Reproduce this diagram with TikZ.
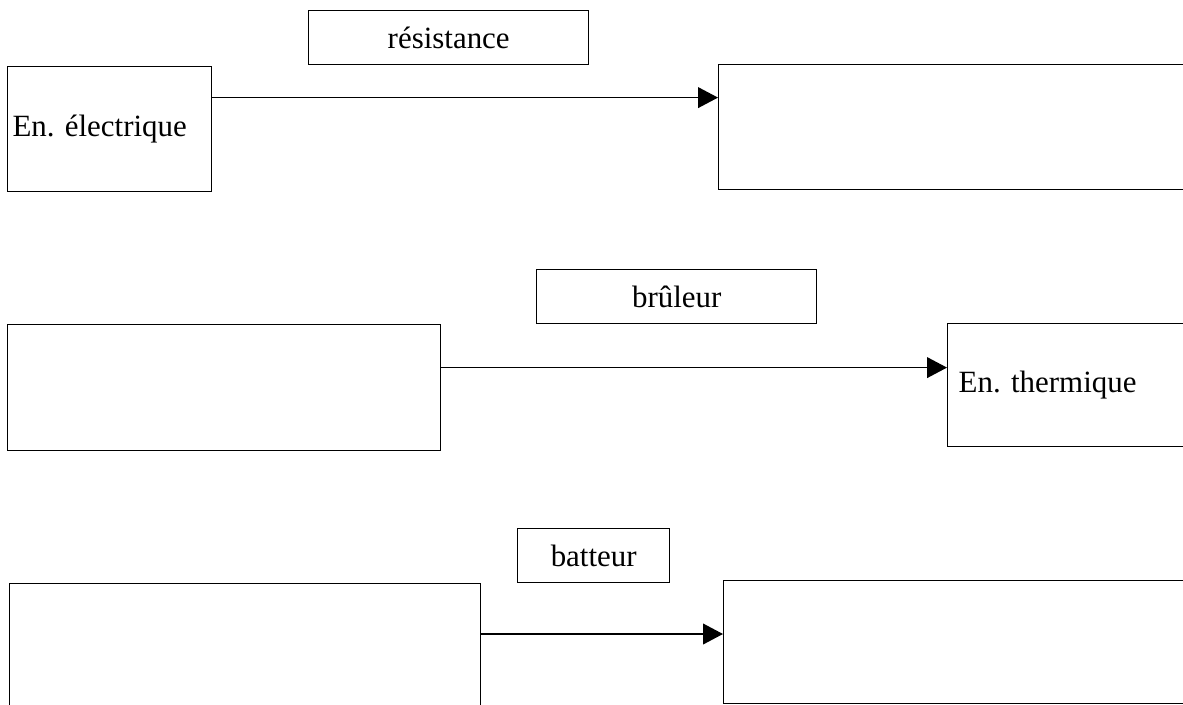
\documentclass[tikz,border=0pt]{standalone}
\usepackage{fontspec}
\setmainfont{Liberation Serif}
\usetikzlibrary{arrows.meta,calc}
\tikzset{
    box/.style={draw,line width=1pt,rectangle,inner sep=0pt,anchor=north west},
    tagbox/.style={box,minimum width=7cm,minimum height=1.35cm},
    flow/.style={line width=1pt,-{Triangle[length=0.5cm,width=0.52cm]}}
}
\begin{document}
\begin{tikzpicture}[font=\fontsize{22}{26}\selectfont]
        \useasboundingbox (0,0) rectangle (29.575,-17.6);
        % first line
        \node[box,minimum width=5.1cm,minimum height=3.125cm,inner xsep=0.12cm,text width=4.86cm,align=left] (elec) at (0.175,-1.65) {En.\ électrique};
        \node[tagbox] (resist) at (7.7,-0.25) {résistance};
        \node[box,minimum width=20cm,minimum height=3.125cm] (out1) at (17.95,-1.6) {};
        \coordinate (a1) at ($(elec.north east)+(0,-0.79)$);
        \draw[flow] (a1) -- (a1 -| out1.west);
        % second line
        \node[box,minimum width=10.825cm,minimum height=3.15cm] (in2) at (0.175,-8.1) {};
        \node[tagbox] (brul) at (13.4,-6.725) {brûleur};
        \node[box,minimum width=20cm,minimum height=3.075cm,inner xsep=0.275cm,text width=19.45cm,align=left] (therm) at (23.675,-8.075) {En.\ thermique};
        \coordinate (a2) at ($(in2.north east)+(0,-1.09)$);
        \draw[flow] (a2) -- (a2 -| therm.west);
        % third line
        \node[box,minimum width=11.775cm,minimum height=4cm] (in3) at (0.225,-14.575) {};
        \node[tagbox,minimum width=3.8cm] (batt) at (12.925,-13.2) {batteur};
        \node[box,minimum width=20cm,minimum height=3.075cm] (out3) at (18.075,-14.5) {};
        \coordinate (a3) at ($(in3.north east)+(0,-1.275)$);
        \draw[flow] (a3) -- (a3 -| out3.west);
    \end{tikzpicture}
\end{document}
